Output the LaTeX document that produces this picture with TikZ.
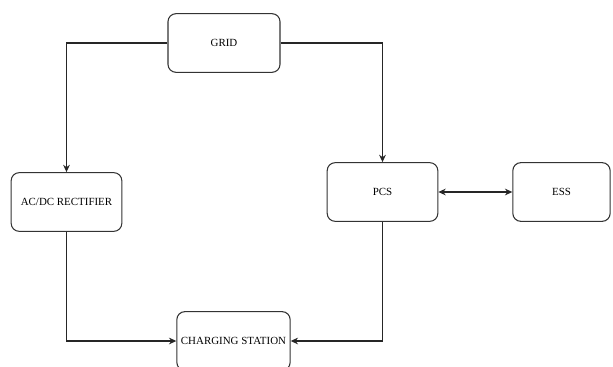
\documentclass[tikz,border=0pt]{standalone}
\usepackage{fontspec}
\setmainfont{Liberation Serif}
\usetikzlibrary{arrows.meta}
\begin{document}
\begin{tikzpicture}[x=0.75pt,y=-0.75pt,
  blk/.style={draw=black!80,line width=0.8pt,rounded corners=6pt,inner sep=0pt,
    minimum height=44pt,font=\fontsize{8.2}{10}\selectfont},
  wire/.style={draw=black!85,line width=0.8pt,>={Stealth[length=5.5pt,width=5pt]},->}]
  \useasboundingbox (0,0) rectangle (613,367);
  \node[blk,minimum width=84pt] (grid) at (224,43) {GRID};
  \node[blk,minimum width=83pt] (rect) at (66.5,202) {AC/DC RECTIFIER};
  \node[blk,minimum width=83pt] (pcs) at (382.5,192) {PCS};
  \node[blk,minimum width=73pt] (ess) at (561.5,192) {ESS};
  \node[blk,minimum width=85pt] (chg) at (233.5,341) {CHARGING STATION};
  % links
  \draw[wire] (grid.west) -| (rect.north);
  \draw[wire] (grid.east) -| (pcs.north);
  \draw[wire] (rect.south) |- (chg.west);
  \draw[wire] (pcs.south) |- (chg.east);
  \draw[wire,<->] (pcs) -- (ess);
\end{tikzpicture}
\end{document}
